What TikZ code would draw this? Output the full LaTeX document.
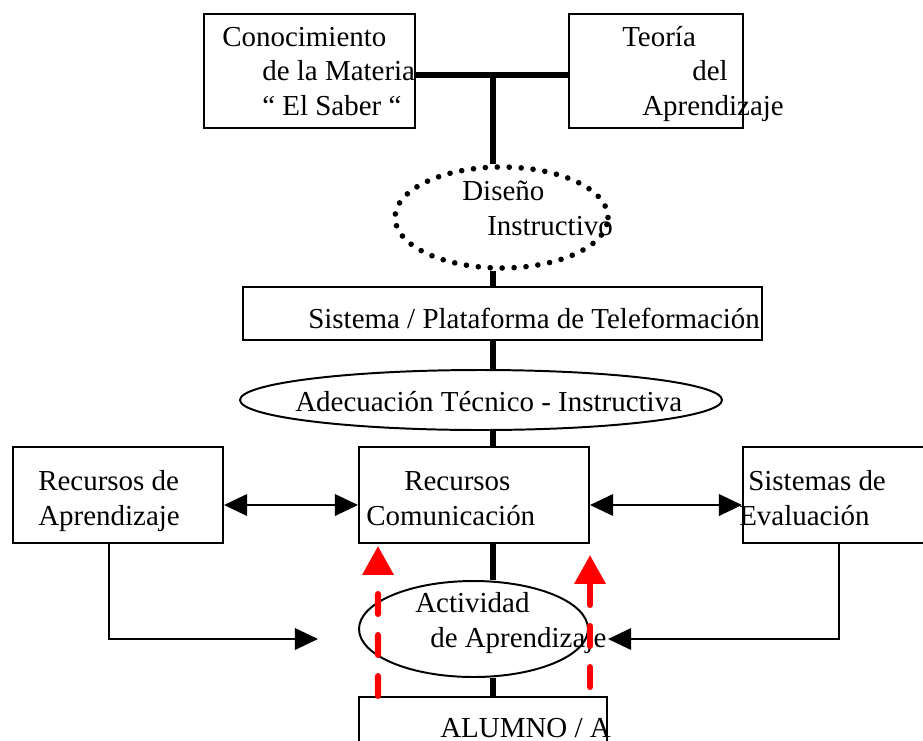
\documentclass[tikz,border=0pt]{standalone}
\usepackage{fontspec}
\setmainfont{Liberation Serif}
\usetikzlibrary{arrows.meta, shapes.geometric}

\begin{document}
\begin{tikzpicture}[auto, font=\rmfamily]
\fontsize{20.6}{24.4}\selectfont
\tikzset{%
	box/.style = {draw, rectangle, line width=1.4pt, inner sep=0pt},
	oval/.style = {draw, ellipse, line width=1.4pt, inner sep=0pt},
	dots/.style = {draw, ellipse, line width=4pt, dash pattern=on 0pt off 8.5pt, line cap=round, inner sep=0pt},
	txt/.style = {anchor=base west, inner sep=0pt, align=left},
	spine/.style = {line width=4.3pt},
	con/.style = {-{Triangle[length=0.58cm, width=0.54cm]}, line width=1.4pt},
	dcon/.style = {{Triangle[length=0.58cm, width=0.54cm]}-{Triangle[length=0.58cm, width=0.54cm]}, line width=1.4pt},
	feedback/.style = {-{Triangle[length=0.72cm, width=0.75cm]}, red, line width=4.3pt, dash pattern=on 0.5cm off 0.525cm, line cap=round}
}
\useasboundingbox (0,0) rectangle (23.075,-18.5);
\clip (0,0) rectangle (23.075,-18.5);

% Top boxes
\draw node at (7.7375,-1.775) [box, minimum width=5.275cm, minimum height=2.85cm] (saber) {};
\draw node at (16.4,-1.775) [box, minimum width=4.35cm, minimum height=2.85cm] (teoria) {};
\draw node at (5.55,-2.875) [txt] (saberT) {Conocimiento\\\hspace*{1cm}de la Materia\\\hspace*{1cm}“ El Saber “};
\draw node at (15.55,-2.875) [txt] (teoriaT) {Teoría\\\hspace*{1.75cm}del\\\hspace*{0.5cm}Aprendizaje};

% Design and platform
\draw node at (12.5375,-5.4375) [dots, minimum width=5.325cm, minimum height=2.525cm] (diseno) {};
\draw node at (11.55,-5.875) [txt] (disenoT) {Diseño\\\hspace*{0.625cm}Instructivo};
\draw node at (12.5625,-7.8375) [box, minimum width=12.975cm, minimum height=1.325cm] (plat) {};
\draw node at (7.7,-8.2) [txt] (platT) {Sistema / Plataforma de Teleformación};
\draw node at (12.025,-10) [oval, minimum width=12.05cm, minimum height=1.5cm] (adec) {};
\draw node at (7.375,-10.275) [txt] (adecT) {Adecuación Técnico - Instructiva};

% Resources
\draw node at (2.95,-12.375) [box, minimum width=5.25cm, minimum height=2.4cm] (ra) {};
\draw node at (11.85,-12.375) [box, minimum width=5.75cm, minimum height=2.4cm] (rc) {};
\draw node at (21.075,-12.375) [box, minimum width=5cm, minimum height=2.4cm] (se) {};
\draw node at (0.95,-13.125) [txt] (raT) {Recursos de\\Aprendizaje};
\draw node at (9.15,-13.125) [txt] (rcT) {\hspace*{0.95cm}Recursos\\Comunicación};
\draw node at (18.475,-13.125) [txt] (seT) {\hspace*{0.225cm}Sistemas de\\Evaluación};

% Activity and student
\draw node at (11.8375,-15.725) [oval, minimum width=5.725cm, minimum height=2.4cm] (act) {};
\draw node at (10.375,-16.175) [txt] (actT) {Actividad\\\hspace*{0.375cm}de Aprendizaje};
\draw node at (12.075,-18.3375) [box, minimum width=6.2cm, minimum height=1.825cm] (al) {};
\draw node at (11,-18.425) [txt] (alT) {ALUMNO / A};

\coordinate (jn) at (12.325,-1.875);
\coordinate (inL) at (7.95,-15.975);
\coordinate (inR) at (15.2,-15.975);

\draw[spine] (jn -| saber.east) -- (jn -| teoria.west);
\draw[spine] (jn) -- (jn |- diseno.north);
\draw[spine] (jn |- diseno.south) -- (jn |- plat.north);
\draw[spine] (jn |- plat.south) -- (jn |- adec.north);
\draw[spine] (jn |- adec.south) -- (jn |- rc.north);
\draw[spine] (jn |- rc.south) -- (jn |- act.north);
\draw[spine] (jn |- act.south) -- (jn |- al.north);

\draw[dcon] ([yshift=-0.25cm]ra.east) -- ([yshift=-0.25cm]rc.west);
\draw[dcon] ([yshift=-0.25cm]rc.east) -- ([yshift=-0.25cm]se.west);
\draw[con] ([xshift=-0.225cm]ra.south) |- (inL);
\draw[con] ([xshift=-0.1cm]se.south) |- (inR);

\draw[feedback] ([xshift=-2.625cm]al.north) -- ([xshift=-2.4cm, yshift=-0.05cm]rc.south);
\draw[feedback] ([xshift=2.675cm, yshift=0.225cm]al.north) -- ([xshift=2.9cm, yshift=-0.275cm]rc.south);

\end{tikzpicture}
\end{document}
